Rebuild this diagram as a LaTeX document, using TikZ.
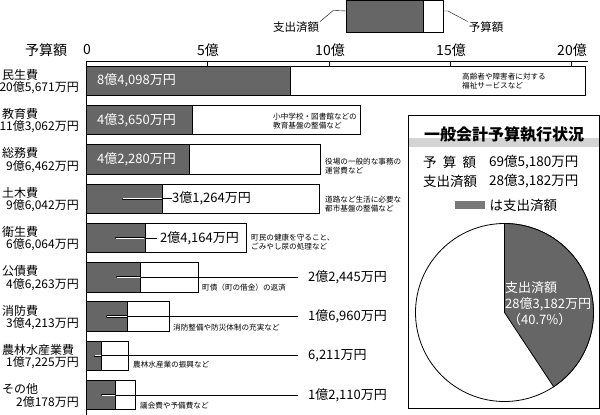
\documentclass[tikz,border=0pt]{standalone}
\usepackage{fontspec}
\setmainfont{Noto Sans CJK JP}
\usepackage{tikz}
\usetikzlibrary{positioning}
\definecolor{spentgray}{RGB}{102,102,102}
\definecolor{keygray}{RGB}{120,120,120}
\definecolor{bandgray}{RGB}{212,212,212}
\newcommand{\axfont}{\fontsize{14pt}{16pt}\selectfont}
\newcommand{\catfont}{\fontsize{12pt}{14pt}\selectfont}
\newcommand{\valfont}{\fontsize{13pt}{15pt}\selectfont}
\newcommand{\notefont}{\fontsize{7.6pt}{9pt}\selectfont}
\newcommand{\keyfont}{\fontsize{11.5pt}{13pt}\selectfont}
\newcommand{\titlefont}{\fontsize{16pt}{18pt}\selectfont\bfseries}
\newcommand{\boxfont}{\fontsize{13.5pt}{16pt}\selectfont}
\newcommand{\piefont}{\fontsize{13pt}{16pt}\selectfont}
\tikzstyle{budget} = [rectangle, draw=black, fill=white, line width=0.9pt, minimum height=29.5pt, inner sep=0pt, outer sep=0pt, anchor=north west]
\tikzstyle{spent} = [budget, fill=spentgray]
\tikzstyle{axlabel} = [inner sep=0pt, font=\axfont]
\tikzstyle{catlabel} = [anchor=west, inner sep=0pt, font=\catfont]
\tikzstyle{amount} = [anchor=east, inner sep=0pt, font=\catfont]
\tikzstyle{inval} = [anchor=west, inner sep=0pt, text=white, font=\valfont]
\tikzstyle{outval} = [anchor=west, inner sep=0pt, font=\valfont]
\tikzstyle{note} = [anchor=west, inner sep=0pt, align=left, font=\notefont]
\tikzstyle{leader} = [line width=0.9pt]
\tikzstyle{inleader} = [line width=0.6pt, double=white, double distance=0.9pt, line cap=round, shorten >=1pt]

\begin{document}
\begin{tikzpicture}[x=1pt, y=-1pt]
  \useasboundingbox (0,0) rectangle (600,415);
  % 凡例
  \node (leg-total) [budget, minimum width=97pt, minimum height=32pt] at (346,0.5) {};
  \node (leg-spent) [spent, minimum width=77pt, minimum height=32pt] at (346,0.5) {};
  \node (leg-spent-txt) [inner sep=0pt, font=\keyfont] at (296,27) {支出済額};
  \node (leg-total-txt) [inner sep=0pt, font=\keyfont] at (486,27) {予算額};
  \draw ([xshift=1pt]leg-spent-txt.north east) -- ++(13,-11) -- ([yshift=-10.5pt]leg-spent.north west);
  \draw ([yshift=-10.5pt]leg-total.north east) -- ++(5,0) -- ([xshift=-1pt]leg-total-txt.north west);
  % 目盛
  \node (ax-title) [axlabel] at (46,50) {予算額};
  \node (ax0) [axlabel] at (87,50) {0};
  \node (ax5) [axlabel] at (208,50) {5億};
  \node (ax10) [axlabel] at (330,50) {10億};
  \node (ax15) [axlabel] at (451,50) {15億};
  \node (ax20) [axlabel] at (572,50) {20億};
  \draw[line width=0.9pt] (86.5,61) -- (588,61);
  \draw[line width=0.9pt] (86.5,61) -- (86.5,415);
  \draw[line width=0.9pt] (207.75,61) -- ++(0,6);
  \draw[line width=0.9pt] (329,61) -- ++(0,6);
  \draw[line width=0.9pt] (450.25,61) -- ++(0,6);
  \draw[line width=0.9pt] (571.5,61) -- ++(0,6);
  % 民生費
  \node (minsei) [budget, minimum width=498.75pt] at (86.5,66) {};
  \node (minsei-spent) [spent, minimum width=203.94pt] at (86.5,66) {};
  \node (minsei-name) [catlabel] at (2,74.75) {民生費};
  \node (minsei-amt) [amount] at (79,87.75) {20億5,671万円};
  \node (minsei-val) [inval] at (97,80.75) {8億4,098万円};
  \node (minsei-note) [note] at (462,81) {高齢者や障害者に対する\\福祉サービスなど};
  % 教育費
  \node (kyoiku) [budget, minimum width=274.18pt] at (86.5,105.3) {};
  \node (kyoiku-spent) [spent, minimum width=105.85pt] at (86.5,105.3) {};
  \node (kyoiku-name) [catlabel] at (2,114) {教育費};
  \node (kyoiku-amt) [amount] at (79,127) {11億3,062万円};
  \node (kyoiku-val) [inval] at (97,120) {4億3,650万円};
  \node (kyoiku-note) [note] at (273,121) {小中学校・図書館などの\\教育基盤の整備など};
  % 総務費
  \node (somu) [budget, minimum width=233.92pt] at (86.5,144.6) {};
  \node (somu-spent) [spent, minimum width=102.53pt] at (86.5,144.6) {};
  \node (somu-name) [catlabel] at (2,153.4) {総務費};
  \node (somu-amt) [amount] at (79,166.4) {9億6,462万円};
  \node (somu-val) [inval] at (97,159.4) {4億2,280万円};
  \node (somu-note) [note] at (325,166) {役場の一般的な事務の\\運営費など};
  % 土木費
  \node (doboku) [budget, minimum width=232.90pt] at (86.5,184) {};
  \node (doboku-spent) [spent, minimum width=75.82pt] at (86.5,184) {};
  \node (doboku-name) [catlabel] at (2,192.7) {土木費};
  \node (doboku-amt) [amount] at (79,205.7) {9億6,042万円};
  \coordinate (doboku-pt) at (123,198.7);
  \node (doboku-val) [outval] at (172,198.7) {3億1,264万円};
  \node (doboku-note) [note] at (325,204) {道路など生活に必要な\\都市基盤の整備など};
  % 衛生費
  \node (eisei) [budget, minimum width=160.21pt] at (86.5,223.2) {};
  \node (eisei-spent) [spent, minimum width=58.60pt] at (86.5,223.2) {};
  \node (eisei-name) [catlabel] at (2,232) {衛生費};
  \node (eisei-amt) [amount] at (79,245) {6億6,064万円};
  \coordinate (eisei-pt) at (116,238);
  \node (eisei-val) [outval] at (160,238) {2億4,164万円};
  \node (eisei-note) [note] at (251,242) {町民の健康を守ること、\\ごみやし尿の処理など};
  % 公債費
  \node (kosai) [budget, minimum width=112.19pt] at (86.5,262.5) {};
  \node (kosai-spent) [spent, minimum width=54.43pt] at (86.5,262.5) {};
  \node (kosai-name) [catlabel] at (2,271.2) {公債費};
  \node (kosai-amt) [amount] at (79,284.2) {4億6,263万円};
  \coordinate (kosai-pt) at (117,277.2);
  \node (kosai-val) [outval] at (308,277.2) {2億2,445万円};
  \node (kosai-note) [note] at (202,288) {町債（町の借金）の返済};
  % 消防費
  \node (shobo) [budget, minimum width=82.97pt] at (86.5,301.8) {};
  \node (shobo-spent) [spent, minimum width=41.13pt] at (86.5,301.8) {};
  \node (shobo-name) [catlabel] at (2,310.5) {消防費};
  \node (shobo-amt) [amount] at (79,323.5) {3億4,213万円};
  \coordinate (shobo-pt) at (107,316.5);
  \node (shobo-val) [outval] at (308,316.5) {1億6,960万円};
  \node (shobo-note) [note] at (173,328) {消防整備や防災体制の充実など};
  % 農林水産業費
  \node (norin) [budget, minimum width=41.77pt] at (86.5,341) {};
  \node (norin-spent) [spent, minimum width=15.06pt] at (86.5,341) {};
  \node (norin-name) [catlabel] at (2,349.8) {農林水産業費};
  \node (norin-amt) [amount] at (79,362.8) {1億7,225万円};
  \coordinate (norin-pt) at (95,355.8);
  \node (norin-val) [outval] at (308,355.8) {6,211万円};
  \node (norin-note) [note] at (133,365) {農林水産業の振興など};
  % その他
  \node (sonota) [budget, minimum width=48.93pt] at (86.5,380.3) {};
  \node (sonota-spent) [spent, minimum width=29.37pt] at (86.5,380.3) {};
  \node (sonota-name) [catlabel] at (2,389.1) {その他};
  \node (sonota-amt) [amount] at (79,402.1) {2億178万円};
  \coordinate (sonota-pt) at (102,395.1);
  \node (sonota-val) [outval] at (308,395.1) {1億2,110万円};
  \node (sonota-note) [note] at (140,406) {議会費や予備費など};
  % 引出線
  \draw[leader] (doboku-pt) -- (doboku-val.west);
  \draw[inleader] (doboku-pt) -- (doboku-pt -| doboku-spent.east);
  \draw[leader] (eisei-pt) -- ([xshift=-3pt]eisei-val.west);
  \draw[inleader] (eisei-pt) -- (eisei-pt -| eisei-spent.east);
  \draw[leader] (kosai-pt) -- ([xshift=-10pt]kosai-val.west);
  \draw[inleader] (kosai-pt) -- (kosai-pt -| kosai-spent.east);
  \draw[leader] (shobo-pt) -- ([xshift=-10pt]shobo-val.west);
  \draw[inleader] (shobo-pt) -- (shobo-pt -| shobo-spent.east);
  \draw[leader] (norin-pt) -- ([xshift=-10pt]norin-val.west);
  \draw[inleader] (norin-pt) -- (norin-pt -| norin-spent.east);
  \draw[leader] (sonota-pt) -- ([xshift=-10pt]sonota-val.west);
  \draw[inleader] (sonota-pt) -- (sonota-pt -| sonota-spent.east);
  % 一般会計予算執行状況
  \node (frame) [rectangle, draw, line width=0.9pt, minimum width=191pt, minimum height=293pt, inner sep=0pt, outer sep=0pt, anchor=north west] at (408,115.5) {};
  \fill[bandgray] (408.5,138) rectangle (599,147);
  \node (title) [inner sep=0pt, font=\titlefont] at (504,135) {一般会計予算執行状況};
  \node (yosan-lbl) [anchor=west, inner sep=0pt, font=\boxfont] at (423,162) {\makebox[53pt]{予\hfill 算\hfill 額}};
  \node (yosan-val) [anchor=west, inner sep=0pt, font=\boxfont] at (489,162) {69億5,180万円};
  \node (shishutsu-lbl) [anchor=west, inner sep=0pt, font=\boxfont] at (423,181) {支出済額};
  \node (shishutsu-val) [anchor=west, inner sep=0pt, font=\boxfont] at (489,181) {28億3,182万円};
  \node (key) [anchor=west, fill=keygray, minimum width=30pt, minimum height=7.5pt, inner sep=0pt] at (455,205) {};
  \node (key-txt) [right=4pt of key, inner sep=0pt, font=\boxfont] {は支出済額};
  % 円グラフ
  \node (pie) [circle, draw, line width=0.8pt, fill=white, minimum size=178pt, inner sep=0pt] at (504.5,312.5) {};
  \begin{scope}[shift={(pie.center)}, y=1pt]
    \filldraw[fill=spentgray, line width=0.8pt] (0,0) -- (90:89) arc (90:-56.5:89) -- cycle;
  \end{scope}
  \node (pie-lbl) [anchor=west, align=left, inner sep=0pt, text=white, font=\piefont] at (505,304) {支出済額\\28億3,182万円\\\hspace{3pt}（40.7\%）};
\end{tikzpicture}
\end{document}
